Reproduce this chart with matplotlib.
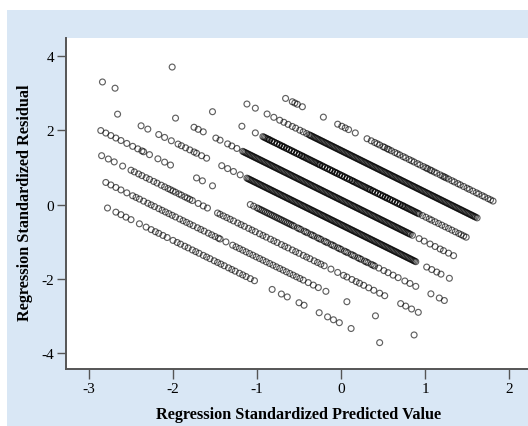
import numpy as np
import matplotlib
matplotlib.use('Agg')
import matplotlib.pyplot as plt
from matplotlib.patches import Rectangle

plt.rcParams['font.family'] = 'Liberation Serif'
plt.rcParams['axes.unicode_minus'] = False

# Each band of points is one observed outcome level; residual falls with the prediction.
# Standardized residual of each band where the predicted value is 0, read off the chart
resid_at_zero = [2.12, 1.454, 0.788, 0.122, -0.544, -1.21, -1.876, -2.542, -3.208]
band_slope = -1.12

# Standardized predicted values of the points on each band
pred_k0 = [-0.66, -0.58, -0.55, -0.52, -0.46, -0.21, -0.04, 0.01, 0.05, 0.09, 0.17,
           0.31, 0.36, 0.40, 0.43, 0.46, 0.50, 0.52, 0.55, 0.57, 0.60, 0.64, 0.67, 0.70,
           0.74, 0.77, 0.81, 0.84, 0.87, 0.91, 0.94, 0.98, 1.01, 1.03, 1.06, 1.08, 1.11,
           1.14, 1.18, 1.21, 1.23, 1.25, 1.28, 1.32, 1.35, 1.39, 1.42, 1.46, 1.50, 1.53,
           1.57, 1.61, 1.64, 1.68, 1.71, 1.75, 1.78, 1.81]
pred_k1 = [-2.01, -1.12, -1.02, -0.88, -0.80, -0.73, -0.68, -0.63, -0.58, -0.54, -0.49,
           -0.45, -0.41, -0.38, -0.35, -0.32, -0.29, -0.26, -0.23, -0.20, -0.17, -0.14,
           -0.11, -0.08, -0.05, -0.02, 0.01, 0.04, 0.07, 0.10, 0.13, 0.16, 0.19, 0.22,
           0.25, 0.28, 0.31, 0.34, 0.37, 0.40, 0.43, 0.46, 0.49, 0.52, 0.55, 0.58, 0.61,
           0.64, 0.67, 0.70, 0.73, 0.76, 0.79, 0.82, 0.85, 0.88, 0.91, 0.94, 0.97, 1.00,
           1.03, 1.06, 1.09, 1.12, 1.15, 1.18, 1.21, 1.24, 1.27, 1.30, 1.33, 1.36, 1.39,
           1.42, 1.45, 1.48, 1.51, 1.54, 1.57, 1.60, 1.62]
pred_k2 = [-1.53, -1.18, -1.02, -0.93, -0.90, -0.87, -0.85, -0.82, -0.79, -0.76, -0.73,
           -0.70, -0.68, -0.65, -0.62, -0.59, -0.56, -0.53, -0.50, -0.47, -0.45, -0.42,
           -0.39, -0.36, -0.33, -0.30, -0.27, -0.25, -0.22, -0.19, -0.16, -0.13, -0.10,
           -0.07, -0.05, -0.02, 0.01, 0.04, 0.07, 0.10, 0.13, 0.15, 0.18, 0.21, 0.24,
           0.27, 0.30, 0.33, 0.35, 0.38, 0.41, 0.44, 0.47, 0.50, 0.53, 0.55, 0.58, 0.61,
           0.64, 0.67, 0.70, 0.73, 0.75, 0.78, 0.81, 0.84, 0.87, 0.90, 0.93, 0.97, 1.01,
           1.05, 1.08, 1.12, 1.16, 1.20, 1.24, 1.28, 1.32, 1.36, 1.40, 1.43, 1.46, 1.49]
pred_k3 = [-2.84, -2.69, -1.97, -1.75, -1.70, -1.64, -1.49, -1.44, -1.35, -1.30, -1.24,
           -1.17, -1.14, -1.11, -1.08, -1.05, -1.02, -0.99, -0.96, -0.93, -0.90, -0.87,
           -0.84, -0.81, -0.78, -0.75, -0.72, -0.69, -0.66, -0.63, -0.60, -0.57, -0.54,
           -0.51, -0.48, -0.45, -0.42, -0.39, -0.36, -0.33, -0.30, -0.27, -0.24, -0.21,
           -0.18, -0.15, -0.12, -0.09, -0.06, -0.03, 0.00, 0.03, 0.06, 0.09, 0.12, 0.15,
           0.18, 0.21, 0.24, 0.27, 0.30, 0.33, 0.36, 0.39, 0.42, 0.45, 0.48, 0.51, 0.54,
           0.57, 0.60, 0.63, 0.66, 0.69, 0.72, 0.75, 0.78, 0.81, 0.85, 0.93, 0.99, 1.06,
           1.12, 1.18, 1.22, 1.28, 1.34]
pred_k4 = [-2.66, -2.38, -2.30, -2.17, -2.10, -2.02, -1.94, -1.90, -1.85, -1.80, -1.75,
           -1.72, -1.66, -1.60, -1.42, -1.35, -1.28, -1.20, -1.12, -1.09, -1.06, -1.03,
           -1.00, -0.97, -0.94, -0.91, -0.88, -0.85, -0.82, -0.79, -0.76, -0.73, -0.70,
           -0.67, -0.64, -0.61, -0.58, -0.55, -0.52, -0.49, -0.46, -0.43, -0.40, -0.37,
           -0.34, -0.31, -0.28, -0.25, -0.22, -0.19, -0.16, -0.13, -0.10, -0.07, -0.04,
           -0.01, 0.02, 0.05, 0.08, 0.11, 0.14, 0.17, 0.20, 0.23, 0.26, 0.29, 0.32, 0.35,
           0.38, 0.41, 0.44, 0.47, 0.50, 0.53, 0.56, 0.59, 0.62, 0.65, 0.68, 0.71, 0.74,
           0.77, 0.80, 0.83, 0.86, 0.89, 1.02, 1.08, 1.14, 1.19, 1.29]
pred_k5 = [-2.86, -2.80, -2.74, -2.68, -2.62, -2.55, -2.48, -2.42, -2.37, -2.35, -2.28,
           -2.18, -2.10, -2.03, -1.72, -1.65, -1.53, -1.08, -1.04, -1.00, -0.96, -0.92,
           -0.88, -0.86, -0.84, -0.80, -0.78, -0.76, -0.72, -0.70, -0.68, -0.64, -0.62,
           -0.60, -0.56, -0.52, -0.48, -0.44, -0.40, -0.36, -0.32, -0.28, -0.24, -0.20,
           -0.16, -0.12, -0.08, -0.04, 0.00, 0.04, 0.08, 0.12, 0.16, 0.20, 0.24, 0.28,
           0.32, 0.36, 0.40, 0.45, 0.51, 0.56, 0.62, 0.68, 0.76, 0.82, 0.89, 1.07, 1.17,
           1.23]
pred_k6 = [-2.85, -2.77, -2.70, -2.60, -2.50, -2.46, -2.41, -2.37, -2.32, -2.28, -2.23,
           -2.19, -2.14, -2.10, -2.06, -2.03, -2.00, -1.97, -1.93, -1.90, -1.86, -1.83,
           -1.80, -1.77, -1.70, -1.64, -1.59, -1.47, -1.44, -1.40, -1.36, -1.32, -1.28,
           -1.23, -1.19, -1.15, -1.10, -1.06, -1.02, -0.97, -0.93, -0.89, -0.84, -0.80,
           -0.76, -0.71, -0.67, -0.63, -0.58, -0.54, -0.50, -0.45, -0.41, -0.37, -0.32,
           -0.28, -0.24, -0.20, -0.12, -0.04, 0.03, 0.07, 0.13, 0.18, 0.22, 0.27, 0.33,
           0.39, 0.46, 0.52, 0.71, 0.77, 0.84, 0.92]
pred_k7 = [-2.80, -2.74, -2.68, -2.62, -2.55, -2.48, -2.44, -2.40, -2.35, -2.30, -2.26,
           -2.22, -2.17, -2.13, -2.09, -2.05, -2.01, -1.97, -1.92, -1.88, -1.84, -1.80,
           -1.76, -1.71, -1.67, -1.63, -1.58, -1.54, -1.50, -1.46, -1.44, -1.37, -1.29,
           -1.25, -1.21, -1.17, -1.13, -1.09, -1.05, -1.01, -0.97, -0.93, -0.89, -0.85,
           -0.81, -0.77, -0.73, -0.69, -0.65, -0.61, -0.57, -0.53, -0.49, -0.45, -0.39,
           -0.33, -0.27, -0.18, 0.07, 0.41, 0.87]
pred_k8 = [-2.78, -2.68, -2.62, -2.56, -2.50, -2.40, -2.32, -2.26, -2.21, -2.17, -2.12,
           -2.07, -2.00, -1.95, -1.91, -1.86, -1.82, -1.77, -1.73, -1.69, -1.64, -1.60,
           -1.56, -1.51, -1.47, -1.43, -1.39, -1.34, -1.30, -1.26, -1.21, -1.17, -1.13,
           -1.08, -1.03, -0.82, -0.71, -0.64, -0.50, -0.44, -0.26, -0.16, -0.09, -0.02,
           0.12, 0.46]

# further cases packed into the solid black stretches of the middle bands
more_k1 = [-0.365, -0.335, -0.305, -0.275, -0.245, -0.215, -0.185, -0.155, -0.125, -0.095,
           -0.065, -0.035, -0.005, 0.025, 0.055, 0.085, 0.115, 0.145, 0.175, 0.205, 0.235,
           0.265, 0.295, 0.325, 0.355, 0.385, 0.415, 0.445, 0.475, 0.505, 0.535, 0.565,
           0.595, 0.625, 0.655, 0.685, 0.715, 0.745, 0.775, 0.805, 0.835, 0.865, 0.895,
           0.925, 0.955, 0.985, 1.015, 1.045, 1.075, 1.105, 1.135, 1.165, 1.195, 1.225,
           1.255, 1.285, 1.315, 1.345, 1.375, 1.405, 1.435, 1.465, 1.495, 1.525, 1.555,
           1.585]
more_k2 = [-0.915, -0.885, -0.855, -0.825, -0.795, -0.765, -0.735, -0.705, -0.675, -0.645,
           -0.615, -0.585, -0.555, -0.525, -0.495, -0.465, -0.435, -0.405, -0.375, -0.345,
           -0.315, -0.285, -0.255, -0.225, -0.195, -0.165, -0.135, -0.105, -0.075, -0.045,
           -0.015, 0.015, 0.045, 0.075, 0.105, 0.135, 0.165, 0.195, 0.225, 0.255, 0.285,
           0.315, 0.345, 0.375, 0.405, 0.435, 0.465, 0.495, 0.525, 0.555, 0.585, 0.615,
           0.645, 0.675, 0.705, 0.735, 0.765, 0.795, 0.825, 0.855, 0.885, 0.915]
more_k3 = [-1.155, -1.125, -1.095, -1.065, -1.035, -1.005, -0.975, -0.945, -0.915, -0.885,
           -0.855, -0.825, -0.795, -0.765, -0.735, -0.705, -0.675, -0.645, -0.615, -0.585,
           -0.555, -0.525, -0.495, -0.465, -0.435, -0.405, -0.375, -0.345, -0.315, -0.285,
           -0.255, -0.225, -0.195, -0.165, -0.135, -0.105, -0.075, -0.045, -0.015, 0.015,
           0.045, 0.075, 0.105, 0.135, 0.165, 0.195, 0.225, 0.255, 0.285, 0.315, 0.345,
           0.375, 0.405, 0.435, 0.465, 0.495, 0.525, 0.555, 0.585, 0.615, 0.645, 0.675,
           0.705, 0.735, 0.765, 0.795, 0.825]
more_k4 = [-1.105, -1.075, -1.045, -1.015, -0.985, -0.955, -0.925, -0.895, -0.865, -0.835,
           -0.805, -0.775, -0.745, -0.715, -0.685, -0.655, -0.625, -0.595, -0.565, -0.535,
           -0.505, -0.475, -0.445, -0.415, -0.385, -0.355, -0.325, -0.295, -0.265, -0.235,
           -0.205, -0.175, -0.145, -0.115, -0.085, -0.055, -0.025, 0.005, 0.035, 0.065,
           0.095, 0.125, 0.155, 0.185, 0.215, 0.245, 0.275, 0.305, 0.335, 0.365, 0.395,
           0.425, 0.455, 0.485, 0.515, 0.545, 0.575, 0.605, 0.635, 0.665, 0.695, 0.725,
           0.755, 0.785, 0.815, 0.845, 0.875]
more_k5 = [-0.98, -0.94, -0.90, -0.82, -0.74, -0.66, -0.58, -0.50, -0.42, -0.34, -0.26,
           -0.18, -0.10, -0.02, 0.06, 0.14, 0.22, 0.30, 0.38]

bands = [pred_k0, pred_k1 + more_k1, pred_k2 + more_k2, pred_k3 + more_k3,
         pred_k4 + more_k4, pred_k5 + more_k5, pred_k6, pred_k7, pred_k8]

x_ticks = [-3, -2, -1, 0, 1, 2]
y_ticks = [-4, -2, 0, 2, 4]

fig = plt.figure(figsize=(5.28, 4.27), dpi=100)
# light blue panel behind the chart
bg = Rectangle((7 / 528, 0), 1 - 7 / 528, 416 / 427, transform=fig.transFigure,
               facecolor='#d9e7f5', edgecolor='none', zorder=-10)
fig.add_artist(bg)

ax = fig.add_axes([66 / 528, 57 / 427, 462 / 528, 331 / 427])
ax.set_facecolor('white')

for x_vals, r0 in zip(bands, resid_at_zero):
    x = np.array(x_vals)
    y = r0 + band_slope * x
    ax.scatter(x, y, s=18, facecolors='none', edgecolors=(0, 0, 0, 0.62), linewidths=0.85)

ax.set_xlim(-3.274, 2.226)
ax.set_ylim(-4.434, 4.488)
ax.set_xticks(x_ticks)
ax.set_yticks(y_ticks)

for side in ['top', 'right']:
    ax.spines[side].set_visible(False)
for side in ['left', 'bottom']:
    ax.spines[side].set_color('#555555')
    ax.spines[side].set_linewidth(1.4)

ax.tick_params(axis='x', direction='out', length=7.2, width=1.0, color='#555555',
               labelsize=11, pad=2)
ax.tick_params(axis='y', direction='out', length=6.5, width=1.0, color='#555555',
               labelsize=11, pad=2)

fig.text(298.5 / 528, 1 - 419 / 427, 'Regression Standardized Predicted Value',
         ha='center', va='baseline', fontsize=11.7, fontweight='bold')
fig.text(25 / 528, 1 - 203 / 427, 'Regression Standardized Residual',
         ha='center', va='center', rotation=90, fontsize=11.7, fontweight='bold')

fig.savefig('out.png', dpi=100)
